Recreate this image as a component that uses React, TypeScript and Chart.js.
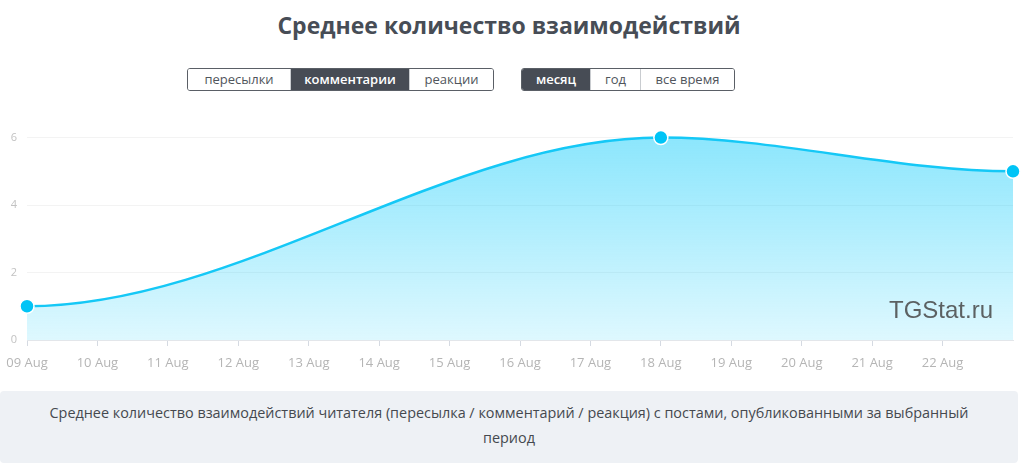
import React, { useEffect, useRef } from 'react';
import { Chart, registerables } from 'chart.js';

Chart.register(...registerables);

const titleText = 'Среднее количество взаимодействий';
const typeButtons = ['пересылки', 'комментарии', 'реакции'];
const typeWidths = [103, 119, 85];
const activeType = 'комментарии';
const periodButtons = ['месяц', 'год', 'все время'];
const periodWidths = [69, 50, 95];
const activePeriod = 'месяц';

const xLabels = [
  '09 Aug', '10 Aug', '11 Aug', '12 Aug', '13 Aug', '14 Aug', '15 Aug', '16 Aug',
  '17 Aug', '18 Aug', '19 Aug', '20 Aug', '21 Aug', '22 Aug', '23 Aug',
];
const pointDates = ['09 Aug', '18 Aug', '23 Aug'];
const pointValues = [1, 6, 5];
const yMin = 0;
const yMax = 6;
const yStep = 2;

const watermark = 'TGStat.ru';
const footnoteLines = [
  'Среднее количество взаимодействий читателя (пересылка / комментарий / реакция) с постами, опубликованными за выбранный',
  'период',
];

const FONT = '"Open Sans", "Noto Sans", sans-serif';

// Smooth curve with horizontal tangents at every point (control points from scale positions)
const smoothPlugin = {
  id: 'flatSpline',
  beforeDraw(chart: any) {
    chart.getSortedVisibleDatasetMetas().forEach((meta: any) => {
      const line = meta.dataset;
      if (!line) return;
      line.updateControlPoints(chart.chartArea, 'x');
      const pts = meta.data.filter((p: any) => !p.skip);
      pts.forEach((p: any, i: number) => {
        const prev = pts[i - 1];
        const next = pts[i + 1];
        p.cp1x = prev ? p.x - (p.x - prev.x) / 3 : p.x;
        p.cp1y = p.y;
        p.cp2x = next ? p.x + (next.x - p.x) / 3 : p.x;
        p.cp2y = p.y;
      });
    });
  },
};

function ButtonGroup({ items, widths, active, left }: { items: string[]; widths: number[]; active: string; left: number }) {
  return (
    <div
      style={{
        position: 'absolute', left, top: 68, height: 21, display: 'flex',
        border: '1px solid #5a5f66', borderRadius: 3, overflow: 'hidden', boxSizing: 'content-box',
      }}
    >
      {items.map((it, i) => {
        const on = it === active;
        return (
          <div
            key={it}
            style={{
              width: widths[i] - (i === 0 ? 1 : 0) - (i === items.length - 1 ? 1 : 0),
              height: 21, lineHeight: '21px', textAlign: 'center', fontFamily: FONT, fontSize: 13,
              color: on ? '#ffffff' : '#50555c', background: on ? '#474c55' : '#ffffff',
              fontWeight: on ? 600 : 400,
              borderLeft: i > 0 ? '1px solid #c9ccd0' : 'none', boxSizing: 'border-box',
            }}
          >
            {it}
          </div>
        );
      })}
    </div>
  );
}

export default function App() {
  const canvasRef = useRef<HTMLCanvasElement | null>(null);

  useEffect(() => {
    document.body.style.margin = '0';
    const canvas = canvasRef.current;
    if (!canvas) return;
    const last = xLabels.length - 1;
    const chart = new Chart(canvas, {
      type: 'line',
      data: {
        labels: xLabels,
        datasets: [
          {
            data: pointDates.map((d, i) => ({ x: d, y: pointValues[i] })) as any,
            borderColor: '#15c8f6',
            borderWidth: 2.5,
            fill: 'origin',
            backgroundColor: (ctx: any) => {
              const area = ctx.chart.chartArea;
              if (!area) return 'rgba(0,200,250,0.3)';
              const g = ctx.chart.ctx.createLinearGradient(0, area.top, 0, area.bottom);
              g.addColorStop(0, 'rgba(0,200,250,0.45)');
              g.addColorStop(1, 'rgba(0,200,250,0.13)');
              return g;
            },
            cubicInterpolationMode: 'monotone',
            pointRadius: 7,
            pointBackgroundColor: '#00c4f6',
            pointBorderColor: '#ffffff',
            pointBorderWidth: 1.5,
            clip: 12 as any,
          },
        ],
      },
      options: {
        animation: false,
        responsive: false,
        events: [],
        layout: { padding: { top: 10, right: 11, left: 0, bottom: 0 } },
        plugins: { legend: { display: false }, tooltip: { enabled: false } },
        scales: {
          x: {
            type: 'category',
            offset: false,
            grid: {
              drawOnChartArea: false,
              drawTicks: true,
              tickLength: 6,
              tickColor: (c: any) => (c.index === last ? 'rgba(0,0,0,0)' : '#d5dae2'),
            },
            border: { color: '#e3e6ea', width: 1 },
            ticks: {
              autoSkip: false,
              maxRotation: 0,
              color: '#b5b5b5',
              font: { size: 13, family: FONT },
              padding: 9,
              callback: (_v: any, i: number) => (i === last ? '' : xLabels[i]),
            },
            afterFit: (s: any) => { s.height = 37; s.paddingLeft = 0; s.paddingRight = 0; },
          },
          y: {
            min: yMin,
            max: yMax,
            ticks: { stepSize: yStep, color: '#c2c2c2', font: { size: 11, family: FONT }, padding: 10 },
            grid: { color: '#f3f3f3', drawTicks: false },
            border: { display: false },
            afterFit: (s: any) => { s.width = 27; },
          },
        },
      },
      plugins: [smoothPlugin],
    });
    return () => chart.destroy();
  }, []);

  return (
    <div style={{ position: 'relative', width: 1024, height: 473, overflow: 'hidden', background: '#fff' }}>
      <div
        style={{
          position: 'absolute', left: 0, top: 8, width: 1018, textAlign: 'center', fontFamily: FONT,
          fontSize: 23, fontWeight: 700, color: '#474d56', lineHeight: '34px',
        }}
      >
        {titleText}
      </div>
      <ButtonGroup items={typeButtons} widths={typeWidths} active={activeType} left={187} />
      <ButtonGroup items={periodButtons} widths={periodWidths} active={activePeriod} left={521} />
      <canvas ref={canvasRef} width={1024} height={256} style={{ position: 'absolute', left: 0, top: 121 }} />
      <div
        style={{
          position: 'absolute', left: 889, top: 295, fontFamily: '"Liberation Sans", Arial, sans-serif',
          fontSize: 24, color: 'rgba(70,70,70,0.85)', pointerEvents: 'none', lineHeight: '30px',
        }}
      >
        {watermark}
      </div>
      <div
        style={{
          position: 'absolute', left: 0, top: 391, width: 1018, height: 72, background: '#eef1f5',
          borderRadius: 4, boxSizing: 'border-box', paddingTop: 9, textAlign: 'center', fontFamily: FONT,
          fontSize: 14.4, lineHeight: '25px', color: '#45494f',
        }}
      >
        {footnoteLines.map((l) => (
          <div key={l}>{l}</div>
        ))}
      </div>
    </div>
  );
}
